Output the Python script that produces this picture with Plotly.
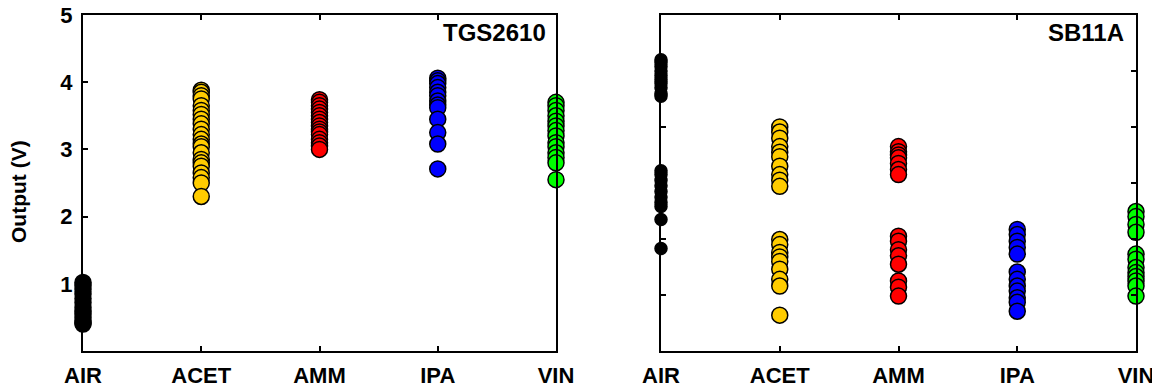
import plotly.graph_objects as go

categories = ["AIR", "ACET", "AMM", "IPA", "VIN"]
colors = ["#000000", "#FFCC00", "#FF0000", "#0000FF", "#00FF00"]

# TGS2610 panel (left)
tgs_air = [1.02, 0.98, 0.92, 0.85, 0.78, 0.72, 0.65, 0.6, 0.55, 0.5, 0.45, 0.42, 0.4]
tgs_acet = [3.88, 3.85, 3.8, 3.75, 3.65, 3.58, 3.52, 3.45, 3.38, 3.3, 3.22, 3.15,
            3.08, 3.04, 2.95, 2.85, 2.8, 2.75, 2.65, 2.58, 2.5, 2.3]
tgs_amm = [3.74, 3.7, 3.65, 3.6, 3.55, 3.5, 3.45, 3.4, 3.35, 3.3, 3.26, 3.22,
           3.15, 3.1, 3.05, 3.0]
tgs_ipa = [4.06, 4.02, 3.98, 3.92, 3.85, 3.8, 3.72, 3.66, 3.62, 3.45, 3.25, 3.08, 2.71]
tgs_vin = [3.7, 3.65, 3.58, 3.5, 3.42, 3.35, 3.28, 3.2, 3.1, 3.04, 2.95, 2.88, 2.8, 2.55]

# SB11A panel (right)
sb_air = [5.2, 5.15, 5.08, 5.0, 4.92, 4.85, 4.78, 4.7, 4.6, 4.55,
          3.22, 3.15, 3.05, 2.95, 2.85, 2.75, 2.65, 2.58, 2.35, 1.83]
sb_acet = [4.0, 3.91, 3.8, 3.65, 3.55, 3.47, 3.3, 3.15, 3.05, 2.94,
           1.99, 1.9, 1.76, 1.68, 1.6, 1.46, 1.28, 1.16, 0.64]
sb_amm = [3.65, 3.56, 3.5, 3.45, 3.35, 3.24, 3.15,
          2.05, 1.96, 1.81, 1.7, 1.55, 1.25, 1.14, 0.98]
sb_ipa = [2.17, 2.08, 1.96, 1.85, 1.73, 1.41, 1.28, 1.16, 1.07, 0.95, 0.87, 0.71]
sb_vin = [2.49, 2.4, 2.26, 2.12, 1.73, 1.64, 1.49, 1.4, 1.33, 1.25, 1.16, 0.98]

left_ticks = [1, 2, 3, 4, 5]
right_ticks = [1, 2, 3, 4, 5]
left_mirror_ticks = [1, 2, 3, 4]

# page body has an 8px margin, so the figure is 8px smaller and offset
OFF = 8
W, H = 1160 - OFF, 388 - OFF
FONT = "Liberation Sans, Arial, sans-serif"


def px_x(p):
    return (p - OFF) / W


def px_y(p):
    return 1 - (p - OFF) / H


fig = go.Figure()

left_sets = [tgs_air, tgs_acet, tgs_amm, tgs_ipa, tgs_vin]
right_sets = [sb_air, sb_acet, sb_amm, sb_ipa, sb_vin]

for cat, col, vals in zip(categories, colors, left_sets):
    fig.add_trace(go.Scatter(
        x=[cat] * len(vals), y=vals, mode="markers", xaxis="x", yaxis="y",
        marker=dict(size=16, color=col, line=dict(color="black", width=1.5)),
        cliponaxis=False, showlegend=False))

for cat, col, vals in zip(categories, colors, right_sets):
    size = 12 if cat == "AIR" else 16
    fig.add_trace(go.Scatter(
        x=[cat] * len(vals), y=vals, mode="markers", xaxis="x2", yaxis="y2",
        marker=dict(size=size, color=col, line=dict(color="black", width=1.5)),
        cliponaxis=False, showlegend=False))

xdom1 = [px_x(83), px_x(556)]
xdom2 = [px_x(661), px_x(1136)]
ydom = [px_y(351), px_y(15)]

tickfont = dict(family=FONT, size=22, color="black", weight="bold")

xcommon = dict(type="category", categoryorder="array", categoryarray=categories,
               range=[0, 4], showline=True, linecolor="black", linewidth=2,
               mirror="ticks", ticks="inside", ticklen=5, tickwidth=2, tickcolor="black",
               showgrid=False, zeroline=False, tickfont=tickfont, automargin=False,
               ticklabelstandoff=4, ticklabeloverflow="allow")

fig.update_layout(
    template="none",
    width=W, height=H,
    margin=dict(l=0, r=0, t=0, b=0, autoexpand=False),
    paper_bgcolor="white", plot_bgcolor="white",
    xaxis=dict(domain=xdom1, anchor="y", **xcommon),
    xaxis2=dict(domain=xdom2, anchor="y2", **xcommon),
    yaxis=dict(domain=ydom, anchor="x", range=[0, 5], tickvals=left_ticks,
               showline=True, linecolor="black", linewidth=2, mirror=True,
               ticks="inside", ticklen=5, tickwidth=2, tickcolor="black",
               showgrid=False, zeroline=False, tickfont=tickfont, automargin=False,
               ticklabelstandoff=4, ticklabeloverflow="allow"),
    yaxis3=dict(overlaying="y", anchor="x", side="right", range=[-0.16, 4.79],
                tickvals=left_mirror_ticks, showticklabels=False,
                showline=False, ticks="inside", ticklen=5, tickwidth=2, tickcolor="black",
                showgrid=False, zeroline=False, automargin=False),
    yaxis2=dict(domain=ydom, anchor="x2", range=[0, 6], tickvals=right_ticks,
                showticklabels=False,
                showline=True, linecolor="black", linewidth=2, mirror="ticks",
                ticks="inside", ticklen=5, tickwidth=2, tickcolor="black",
                showgrid=False, zeroline=False, automargin=False),
    annotations=[
        dict(text="TGS2610", xref="paper", yref="paper", x=px_x(548), y=px_y(33),
             xanchor="right", yanchor="middle", showarrow=False,
             font=dict(family=FONT, size=24, color="black", weight="bold")),
        dict(text="SB11A", xref="paper", yref="paper", x=px_x(1126), y=px_y(33),
             xanchor="right", yanchor="middle", showarrow=False,
             font=dict(family=FONT, size=24, color="black", weight="bold")),
        dict(text="Output (V)", xref="paper", yref="paper", x=px_x(19), y=px_y(192),
             xanchor="center", yanchor="middle", showarrow=False, textangle=-90,
             font=dict(family=FONT, size=21, color="black", weight="bold")),
    ],
)

fig.write_html("out.html")
